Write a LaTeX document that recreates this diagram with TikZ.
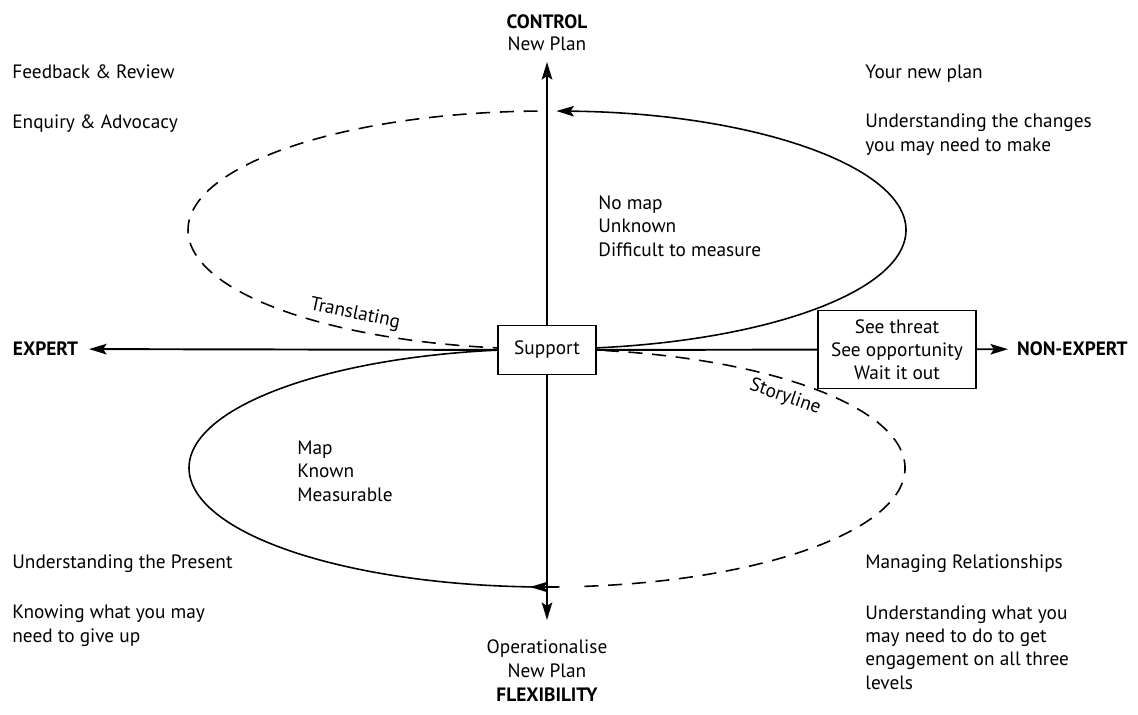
\documentclass[tikz,border=0pt]{standalone}
\usepackage{fontspec}
\setmainfont{PT Sans}
\usetikzlibrary{arrows.meta}

\newcommand\mainsize{\fontsize{11}{13.2}\selectfont}

\tikzset{
  axis/.style={line width=1.1pt, -{Stealth[length=10pt,width=6pt,inset=2pt]}},
  loopline/.style={line width=0.9pt},
  dashloop/.style={loopline, dash pattern=on 8pt off 5.5pt},
  note/.style={inner sep=0pt, anchor=base west, align=left},
  bold/.style={font=\mainsize\bfseries},
  boxnode/.style={draw, line width=0.9pt, fill=white, align=center, inner sep=2pt}
}

\begin{document}
\begin{tikzpicture}[x=0.02cm, y=0.02cm, font=\mainsize]
  \useasboundingbox (0,0) rectangle (1138,-714);
  % Loops
  \draw[loopline, -{Stealth[length=10pt,width=6pt,inset=2pt]}] (547,-349) arc[start angle=-90, end angle=88.5, x radius=359, y radius=119];
  \draw[dashloop] (547,-230) ++(91.5:359 and 119) arc[start angle=91.5, end angle=270, x radius=359, y radius=119];
  \draw[loopline] (547,-349) arc[start angle=90, end angle=272, x radius=358, y radius=119];
  \draw[dashloop] (547,-468) ++(276:358 and 119) arc[start angle=276, end angle=450, x radius=358, y radius=119];
  \coordinate (lowbase) at (552,-587);
  \coordinate (lowtip) at (530,-587);
  \draw[loopline, -{Stealth[length=10pt,width=6pt,inset=2pt]}] (lowbase) -- (lowtip);
  % Boxes
  \node[boxnode, minimum width=56pt, minimum height=28pt] (support) at (547,-350) {Support};
  \node[boxnode, minimum width=90pt, minimum height=44.5pt] (threat) at (897,-349.5) {See threat\\See opportunity\\Wait it out};
  % Axes
  \node[bold, anchor=east, inner xsep=6pt] (expert) at (89,-349) {EXPERT};
  \node[bold, anchor=west, inner xsep=5pt] (nonexpert) at (1008,-349) {NON-EXPERT};
  \coordinate (ctop) at (547,-62);
  \coordinate (cbot) at (547,-620);
  \draw[axis] (support) -- (expert);
  \draw[line width=1.1pt] (support) -- (threat);
  \draw[axis] (threat) -- (nonexpert);
  \draw[axis] (support) -- (ctop);
  \draw[axis] (support) -- (cbot);
  \node[bold, anchor=base] (control) at (547,-28) {CONTROL};
  \node[anchor=base] (topplan) at (547,-50) {New Plan};
  \node[align=center, anchor=base] (operational) at (547,-677) {Operationalise\\New Plan};
  \node[bold, anchor=base] (flex) at (547,-701) {FLEXIBILITY};
  % Texts (base = last line)
  \node[note] (feedback) at (12,-78) {Feedback \& Review};
  \node[note] (enquiry) at (12,-128) {Enquiry \& Advocacy};
  \node[note] (yourplan) at (865,-78) {Your new plan};
  \node[note] (changes) at (865,-151) {Understanding the changes\\you may need to make};
  \node[note] (nomap) at (598,-256) {No map\\Unknown\\Difficult to measure};
  \node[note] (map) at (297,-501) {Map\\Known\\Measurable};
  \node[note] (present) at (12,-568) {Understanding the Present};
  \node[note] (giveup) at (12,-642) {Knowing what you may\\need to give up};
  \node[note] (relations) at (865,-568) {Managing Relationships};
  \node[note] (engage) at (865,-689) {Understanding what you\\may need to do to get\\engagement on all three\\levels};
  \node[rotate=-12] (translating) at (355,-314) {Translating};
  \node[rotate=-19] (storyline) at (785,-397) {Storyline};
\end{tikzpicture}
\end{document}
